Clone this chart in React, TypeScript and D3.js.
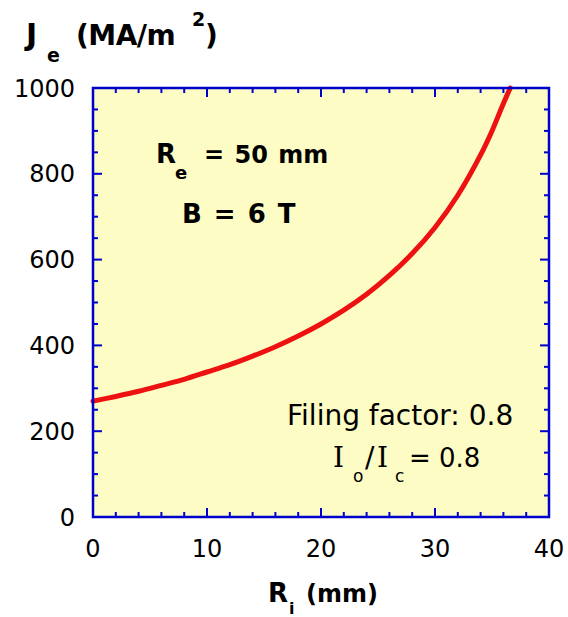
import React from "react";
import * as d3 from "d3";

// Engineering current density vs. inner radius of the coil
const innerRadius = [0, 2, 4, 6, 8, 10, 12, 14, 16, 18, 20, 22, 24, 26, 28, 30, 32, 34, 35, 36, 36.6];
const currentDensity = [270, 281, 293, 307, 321, 338, 355, 375, 397, 422, 450, 482, 519, 563, 614, 675, 750, 844, 900, 964, 1000];

const xTicks = [0, 10, 20, 30, 40];
const yTicks = [0, 200, 400, 600, 800, 1000];
const xMinor = d3.range(0, 40.01, 2);
const yMinor = d3.range(0, 1000.01, 50);

const W = 568;
const H = 617;
const left = 93;
const right = 549;
const top = 88;
const bottom = 517;

const AXIS = "#0000cc";
const FILL = "#fcfcc4";
const CURVE = "#ee1111";
const FONT = "'DejaVu Sans', sans-serif";
const SERIF = "'DejaVu Serif', serif";

export default function App() {
  const x = d3.scaleLinear().domain([0, 40]).range([left, right]);
  const y = d3.scaleLinear().domain([0, 1000]).range([bottom, top]);
  const line = d3
    .line<number>()
    .x((_, i) => x(innerRadius[i]))
    .y((d) => y(d))
    .curve(d3.curveCatmullRom);

  const major = 9;
  const minor = 5;

  return (
    <svg width={W} height={H} style={{ position: "absolute", left: 0, top: 0, background: "#fff" }}>
      <rect x={left} y={top} width={right - left} height={bottom - top} fill={FILL} />

      <path d={line(currentDensity) || ""} fill="none" stroke={CURVE} strokeWidth={5} strokeLinecap="round" />

      {/* inward ticks on all four sides */}
      <g stroke={AXIS} strokeWidth={2}>
        {xMinor.map((v) => (
          <g key={"xm" + v}>
            <line x1={x(v)} x2={x(v)} y1={bottom} y2={bottom - (v % 10 === 0 ? major : minor)} />
            <line x1={x(v)} x2={x(v)} y1={top} y2={top + (v % 10 === 0 ? major : minor)} />
          </g>
        ))}
        {yMinor.map((v) => (
          <g key={"ym" + v}>
            <line y1={y(v)} y2={y(v)} x1={left} x2={left + (v % 200 === 0 ? major : minor)} />
            <line y1={y(v)} y2={y(v)} x1={right} x2={right - (v % 200 === 0 ? major : minor)} />
          </g>
        ))}
      </g>
      <rect x={left} y={top} width={right - left} height={bottom - top} fill="none" stroke={AXIS} strokeWidth={2.5} />

      <g fontFamily={FONT} fontSize={24} fill="#000">
        {xTicks.map((v) => (
          <text key={"xt" + v} x={x(v)} y={bottom + 40} textAnchor="middle">
            {v}
          </text>
        ))}
        {yTicks.map((v) => (
          <text key={"yt" + v} x={left - 18} y={y(v) + 8.5} textAnchor="end">
            {v}
          </text>
        ))}
      </g>

      {/* axis titles */}
      <g fontFamily={FONT} fontWeight="bold" fill="#000">
        <text x={26} y={45} fontSize={30}>J</text>
        <text x={47} y={62} fontSize={19}>e</text>
        <text x={76} y={45} fontSize={28} letterSpacing={-0.5}>(MA/m</text>
        <text x={192} y={26} fontSize={19}>2</text>
        <text x={205} y={45} fontSize={28}>)</text>

        <text x={268} y={602} fontSize={26}>R</text>
        <text x={289} y={614} fontSize={16}>i</text>
        <text x={306} y={602} fontSize={24}>(mm)</text>
      </g>

      {/* coil parameters */}
      <g fontFamily={FONT} fontWeight="bold" fill="#000" fontSize={26}>
        <text x={156} y={163}>R</text>
        <text x={175} y={179} fontSize={18}>e</text>
        <text x={204} y={163} fontSize={24} wordSpacing={2}>= 50 mm</text>
        <text x={182} y={223} wordSpacing={3}>B = 6 T</text>
      </g>
      <g fontFamily={FONT} fill="#000" fontSize={28}>
        <text x={287} y={425}>Filing factor: 0.8</text>
        <text x={333} y={467} fontFamily={SERIF}>I</text>
        <text x={353} y={482} fontSize={17}>o</text>
        <text x={365} y={467}>/</text>
        <text x={377} y={467} fontFamily={SERIF}>I</text>
        <text x={395} y={482} fontSize={17}>c</text>
        <text x={409} y={467} fontSize={26}>= 0.8</text>
      </g>
    </svg>
  );
}
